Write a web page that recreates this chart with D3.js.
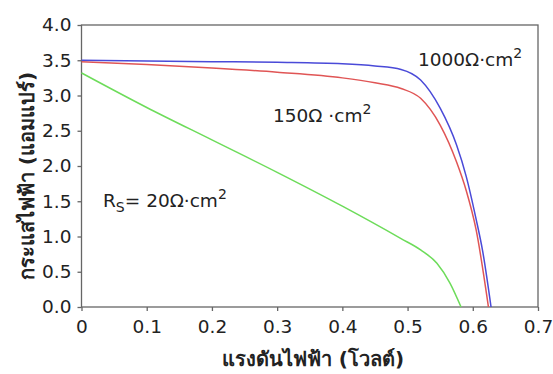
<!DOCTYPE html>
<html lang="th">
<head>
<meta charset="utf-8">
<style>
  body { margin: 0; background: white; }
  svg { font-family: 'DejaVu Sans', Verdana, sans-serif; }
  .axis path, .axis line { stroke: #666; stroke-width: 1.3; }
  .frame { fill: none; stroke: #666; stroke-width: 1.3; }
  .lbl { font-size: 18.5px; fill: #222; }
  .title { font-size: 20px; fill: #222; font-weight: bold; }
</style>
</head>
<body>
<svg width="553" height="374"></svg>
<script src="https://d3js.org/d3.v7.min.js"></script>
<script>
const xTicks = [0, 0.1, 0.2, 0.3, 0.4, 0.5, 0.6, 0.7]
const yTicks = [0, 0.5, 1.0, 1.5, 2.0, 2.5, 3.0, 3.5, 4.0]

// voltage (V) and current (A)
const v1000 = [0, 0.1, 0.2, 0.3, 0.4, 0.45, 0.49, 0.52, 0.55, 0.575, 0.59, 0.605, 0.615, 0.628]
const i1000 = [3.50, 3.49, 3.48, 3.47, 3.45, 3.42, 3.37, 3.22, 2.82, 2.30, 1.85, 1.25, 0.80, 0]
const v150 = [0, 0.1, 0.2, 0.3, 0.4, 0.45, 0.49, 0.52, 0.55, 0.575, 0.59, 0.605, 0.624]
const i150 = [3.48, 3.44, 3.39, 3.33, 3.25, 3.18, 3.10, 2.96, 2.58, 2.06, 1.65, 1.10, 0]
const v20 = [0, 0.1, 0.2, 0.3, 0.4, 0.49, 0.52, 0.545, 0.565, 0.582]
const i20 = [3.32, 2.83, 2.37, 1.91, 1.43, 0.97, 0.81, 0.62, 0.34, 0]

const series = [
  { v: v20, i: i20, color: '#6ddc5a' },
  { v: v150, i: i150, color: '#e05555' },
  { v: v1000, i: i1000, color: '#4a4ad8' }
]

const svg = d3.select('svg')
const margin = { left: 81.5, right: 15, top: 25, bottom: 67 }
const W = 553, H = 374

const x = d3.scaleLinear().domain([0, 0.7]).range([margin.left, W - margin.right])
const y = d3.scaleLinear().domain([0, 4]).range([H - margin.bottom, margin.top])

svg.append('rect').attr('class', 'frame')
  .attr('x', x(0)).attr('y', y(4))
  .attr('width', x(0.7) - x(0)).attr('height', y(0) - y(4))

const line = d3.line()
  .x(d => x(d[0])).y(d => y(d[1]))
  .curve(d3.curveMonotoneX)

series.forEach(function (s) {
  svg.append('path')
    .datum(s.v.map((v, k) => [v, s.i[k]]))
    .attr('fill', 'none')
    .attr('stroke', s.color)
    .attr('stroke-width', 1.5)
    .attr('d', line)
})

const gx = svg.append('g').attr('class', 'axis')
  .attr('transform', 'translate(0,' + y(0) + ')')
  .call(d3.axisBottom(x).tickValues(xTicks).tickSize(4).tickPadding(9)
    .tickFormat(d => d === 0 ? '0' : d3.format('.1f')(d)))

const gy = svg.append('g').attr('class', 'axis')
  .attr('transform', 'translate(' + x(0) + ',0)')
  .call(d3.axisLeft(y).tickValues(yTicks).tickSize(4).tickPadding(6)
    .tickFormat(d3.format('.1f')))

svg.selectAll('.axis .domain').remove()
svg.selectAll('.axis')
  .attr('font-size', 18.5)
  .attr('font-family', 'DejaVu Sans, Verdana, sans-serif')
svg.selectAll('.axis text').attr('fill', '#222')

svg.append('text').attr('class', 'title')
  .attr('x', 313).attr('y', 366).attr('text-anchor', 'middle')
  .text('แรงดันไฟฟ้า (โวลต์)')

svg.append('text').attr('class', 'title')
  .attr('transform', 'translate(34,176) rotate(-90)')
  .attr('text-anchor', 'middle')
  .text('กระแสไฟฟ้า (แอมแปร์)')

const lab1 = svg.append('text').attr('class', 'lbl').attr('x', 418).attr('y', 66)
lab1.append('tspan').text('1000Ω·cm')
lab1.append('tspan').attr('dy', -8).attr('font-size', 14).text('2')

const lab2 = svg.append('text').attr('class', 'lbl').attr('x', 273).attr('y', 122)
lab2.append('tspan').text('150Ω ·cm')
lab2.append('tspan').attr('dy', -8).attr('font-size', 14).text('2')

const lab3 = svg.append('text').attr('class', 'lbl').attr('x', 103).attr('y', 207)
lab3.append('tspan').text('R')
lab3.append('tspan').attr('dy', 5).attr('font-size', 14).text('S')
lab3.append('tspan').attr('dy', -5).text('= 20Ω·cm')
lab3.append('tspan').attr('dy', -8).attr('font-size', 14).text('2')
</script>
</body>
</html>
